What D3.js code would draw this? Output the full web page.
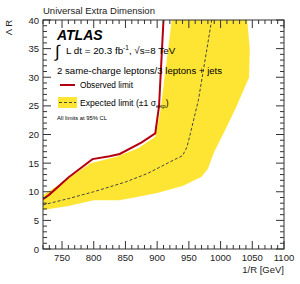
<!DOCTYPE html>
<html><head><meta charset="utf-8">
<script src="https://cdn.jsdelivr.net/npm/d3@7"></script>
<style>body{margin:0;background:#fff}svg{display:block}text{font-family:"Liberation Sans",Arial,sans-serif}</style>
</head><body>
<svg id="c" width="300" height="284"></svg>
<script>
const observed = [[720,8.7],[730,9.5],[760,12.5],[798,15.7],[825,16.2],[841,16.6],[875,18.6],[897,20.2],[903,25],[910,40]];
const expected = [[720,7.7],[760,8.8],[800,10],[850,11.7],[885,13.2],[920,15.2],[940,16.3],[947,17.8],[952,20],[965,26],[986,40]];
const bandUpper = [[720,9.4],[760,12.3],[795,15],[836,16.1],[870,17.6],[897,19.6],[905,24],[923,40]];
const bandLower = [[720,6.8],[760,7.5],[800,8.5],[840,8.5],[860,8.9],[900,9.8],[940,11],[970,12.6],[980,14],[990,17],[1010,21.4],[1025,24.9],[1045,30],[1046,35],[1042,40]];
const xTicks = [750,800,850,900,950,1000,1050,1100];
const yTicks = [0,5,10,15,20,25,30,35,40];

const svg = d3.select("#c");
const L=43,R=284,T=20,B=249;
const x = d3.scaleLinear().domain([720,1100]).range([L,R]);
const y = d3.scaleLinear().domain([0,40]).range([B,T]);
svg.append("defs").append("clipPath").attr("id","clip").append("rect").attr("x",L).attr("y",T).attr("width",R-L).attr("height",B-T);
const g = svg.append("g").attr("clip-path","url(#clip)");
const line = d3.line().x(d=>x(d[0])).y(d=>y(d[1]));
const band = bandUpper.concat(bandLower.slice().reverse());
g.append("path").attr("d",line(band)+"Z").attr("fill","#ffe533");
g.append("path").attr("d",line(expected)).attr("fill","none").attr("stroke","#444").attr("stroke-width",1).attr("stroke-dasharray","3,2");
g.append("path").attr("d",line(observed)).attr("fill","none").attr("stroke","#b4000f").attr("stroke-width",2);

// axes frame
const ax = svg.append("g").attr("stroke","#333").attr("fill","none");
ax.append("rect").attr("x",L).attr("y",T).attr("width",R-L).attr("height",B-T).attr("stroke-width",1);
for(let v=720; v<=1100; v+=10){
  const big = v%50===0; const len = big?8:4;
  ax.append("line").attr("x1",x(v)).attr("x2",x(v)).attr("y1",B).attr("y2",B-len);
  ax.append("line").attr("x1",x(v)).attr("x2",x(v)).attr("y1",T).attr("y2",T+len);
}
for(let v=0; v<=40; v+=1){
  const big = v%5===0; const len = big?8:4;
  ax.append("line").attr("y1",y(v)).attr("y2",y(v)).attr("x1",L).attr("x2",L+len);
  ax.append("line").attr("y1",y(v)).attr("y2",y(v)).attr("x1",R).attr("x2",R-len);
}
svg.selectAll(".xl").data(xTicks).enter().append("text").attr("x",d=>x(d)).attr("y",B+12)
  .attr("text-anchor","middle").attr("font-size",9.5).attr("fill","#222").text(d=>d);
svg.selectAll(".yl").data(yTicks).enter().append("text").attr("x",L-4).attr("y",d=>y(d)+3.5)
  .attr("text-anchor","end").attr("font-size",9.5).attr("fill","#222").text(d=>d);
svg.append("text").attr("x",R).attr("y",B+24).attr("text-anchor","end").attr("font-size",9.5).attr("fill","#222").text("1/R [GeV]");
svg.append("text").attr("transform",`translate(12,${T}) rotate(-90)`).attr("text-anchor","end").attr("font-size",9.5).attr("fill","#222").text("Λ R");
svg.append("text").attr("x",L).attr("y",14).attr("font-size",9.5).attr("fill","#222").text("Universal Extra Dimension");

// annotations
svg.append("text").attr("x",57).attr("y",40).attr("font-size",14).attr("font-weight","bold").attr("font-style","italic").attr("fill","#000").text("ATLAS");
svg.append("text").attr("x",55).attr("y",57).attr("font-size",17).attr("fill","#000").text("∫");
const lum = svg.append("text").attr("x",66).attr("y",54).attr("font-size",9.8).attr("fill","#000");
lum.append("tspan").text("L dt = 20.3 fb");
lum.append("tspan").attr("dy",-4).attr("font-size",6.5).text("-1");
lum.append("tspan").attr("dy",4).text(", √s=8 TeV");
svg.append("text").attr("x",57).attr("y",74).attr("font-size",9.6).attr("fill","#000").text("2 same-charge leptons/3 leptons + jets");
svg.append("line").attr("x1",60).attr("x2",75).attr("y1",85).attr("y2",85).attr("stroke","#b4000f").attr("stroke-width",2);
svg.append("text").attr("x",80).attr("y",88).attr("font-size",8.3).attr("fill","#000").text("Observed limit");
svg.append("rect").attr("x",58).attr("y",97).attr("width",19).attr("height",11).attr("fill","#ffe533");
svg.append("line").attr("x1",59).attr("x2",76).attr("y1",102.5).attr("y2",102.5).attr("stroke","#444").attr("stroke-dasharray","3,2");
const ex = svg.append("text").attr("x",80).attr("y",106).attr("font-size",8.6).attr("fill","#000");
ex.append("tspan").text("Expected limit (±1 σ");
ex.append("tspan").attr("dy",2).attr("font-size",6).text("exp");
ex.append("tspan").attr("dy",-2).text(")");
svg.append("text").attr("x",57).attr("y",120).attr("font-size",5.8).attr("fill","#000").text("All limits at 95% CL");
</script>
</body></html>
